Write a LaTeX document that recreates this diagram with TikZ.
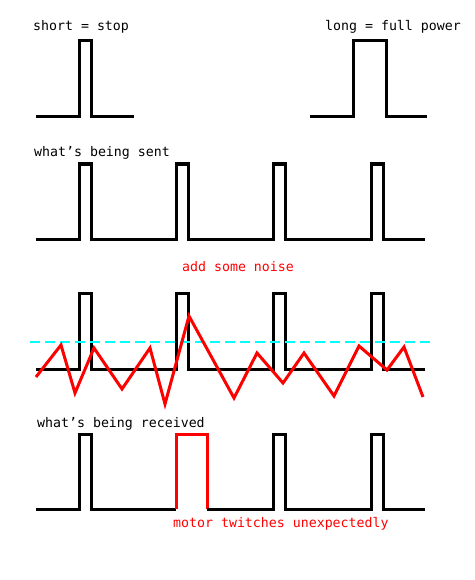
\documentclass[tikz,border=0pt]{standalone}
\usepackage{fontspec}
\setmonofont{DejaVu Sans Mono}
\definecolor{threshcyan}{RGB}{0,255,255}
\definecolor{noisered}{RGB}{255,0,0}
\begin{document}
\begin{tikzpicture}[
    x=1pt, y=-1pt,
    sig/.style={line width=3pt, black, line join=miter},
    twitch/.style={line width=3pt, noisered, line join=miter},
    noise/.style={line width=3pt, noisered, line join=miter},
    thresh/.style={line width=2pt, threshcyan, dash pattern=on 10pt off 5pt},
    lbl/.style={font=\ttfamily\fontsize{13.25}{15}\selectfont, anchor=base west, inner sep=0pt},
    note/.style={lbl, text=noisered},
]
  \useasboundingbox (0,0) rectangle (474,580);

  % Legend
  \node[lbl] (short) at (33,31) {short = stop};
  \node[lbl] (long) at (325,31) {long = full power};
  \draw[sig] (36,117) -- (79,117) -- (79,41) -- (91,41) -- (91,117) -- (134,117);
  \draw[sig] (310,117) -- (353,117) -- (353,41) -- (386,41) -- (386,117) -- (427,117);

  % Sent signal
  \node[lbl] (sent) at (34,157) {what’s being sent};
  \draw[sig] (36,239) \foreach \p in {79,176,273,371} {
    -- (\p,239) -- (\p,164) -- (\p+12,164) -- (\p+12,239) } -- (425,239);

  % Noisy signal
  \node[note] (addnoise) at (182,271) {add some noise};
  \draw[sig] (36,369) \foreach \p in {79,176,273,371} {
    -- (\p,369) -- (\p,293) -- (\p+12,293) -- (\p+12,369) } -- (425,369);
  \draw[thresh] (30,342) -- (431,342);
  \draw[noise] (36,377) -- (61,345) -- (75,393) -- (94,348) -- (122,389)
    -- (150,348) -- (165,404) -- (189,316) -- (234,398) -- (257,353)
    -- (283,383) -- (304,353) -- (334,396) -- (359,346) -- (387,370)
    -- (404,347) -- (423,397);

  % Received signal
  \node[lbl] (received) at (37,427) {what’s being received};
  \draw[sig] (36,509) -- (79,509) -- (79,434) -- (91,434) -- (91,509) -- (176,509);
  \draw[twitch] (176,509) -- (176,434) -- (207,434) -- (207,509);
  \draw[sig] (207,509) \foreach \p in {273,371} {
    -- (\p,509) -- (\p,434) -- (\p+12,434) -- (\p+12,509) } -- (425,509);
  \node[note] (twitches) at (173,527) {motor twitches unexpectedly};

\end{tikzpicture}
\end{document}
